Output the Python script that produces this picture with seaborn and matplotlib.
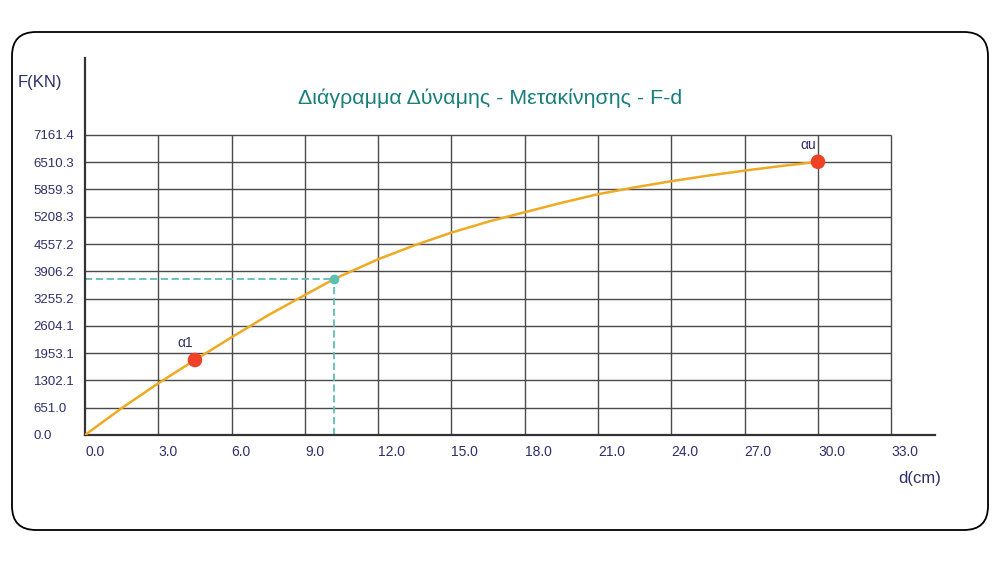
import pandas as pd
import seaborn as sns
import matplotlib.pyplot as plt
from matplotlib.patches import FancyBboxPatch

# values
d_cm = [0.0, 1.5, 3.0, 4.5, 6.0, 7.5, 9.0, 10.2, 12.0, 13.5, 15.0, 16.5, 18.0,
        19.5, 21.0, 22.5, 24.0, 25.5, 27.0, 28.5, 30.0]
force_kn = [0, 640, 1234, 1790, 2332, 2860, 3340, 3724, 4194, 4530, 4830, 5090, 5317,
            5540, 5747, 5910, 6057, 6190, 6310, 6420, 6520]
x_ticks = [0.0, 3.0, 6.0, 9.0, 12.0, 15.0, 18.0, 21.0, 24.0, 27.0, 30.0, 33.0]
y_ticks = [0.0, 651.0, 1302.1, 1953.1, 2604.1, 3255.2, 3906.2, 4557.2,
           5208.3, 5859.3, 6510.3, 7161.4]
key_names = ['α1', 'αu']
key_d = [4.5, 30.0]
key_f = [1790, 6520]
sel_d = 10.2
sel_f = 3724

navy = '#2d2f6b'
teal = '#5cbfb1'

curve = pd.DataFrame({'d': d_cm, 'F': force_kn})
keys = pd.DataFrame({'d': key_d, 'F': key_f, 'name': key_names})

sns.set_style('white')
plt.rcParams['font.family'] = ['Liberation Sans', 'DejaVu Sans']

fig = plt.figure(figsize=(10, 5.62), dpi=100)
fig.patches.append(FancyBboxPatch((12, 32), 976, 498, boxstyle='round,pad=0,rounding_size=24',
                                  transform=None, fill=False, edgecolor='black', linewidth=1.3))

ax = fig.add_axes([0.085, 0.226, 0.85, 0.671])
ax.set_xlim(0, 34.79)
ax.set_ylim(0, 9000)

# grid limited to the tick range
ax.vlines(x_ticks[1:], 0, y_ticks[-1], color='#4a4a4a', linewidth=1, zorder=1)
ax.hlines(y_ticks[1:], 0, x_ticks[-1], color='#4a4a4a', linewidth=1, zorder=1)

# dashed guides to the selected point
ax.plot([0, sel_d], [sel_f, sel_f], color=teal, linestyle='--', linewidth=1.3, dashes=(4, 2), zorder=2)
ax.plot([sel_d, sel_d], [0, sel_f], color=teal, linestyle='--', linewidth=1.3, dashes=(4, 2), zorder=2)

sns.lineplot(data=curve, x='d', y='F', ax=ax, color='#eeaa22', linewidth=1.8, zorder=3)
ax.plot([sel_d], [sel_f], 'o', color=teal, markersize=6, zorder=4)
sns.scatterplot(data=keys, x='d', y='F', ax=ax, color='#ee4125', s=110, edgecolor='none', zorder=5)
for _, r in keys.iterrows():
    ax.annotate(r['name'], (r['d'], r['F']), xytext=(-7, 7), textcoords='offset points',
                ha='center', va='bottom', fontsize=10, color=navy)

sns.despine(ax=ax)
for s in ['left', 'bottom']:
    ax.spines[s].set_color('#333333')
    ax.spines[s].set_linewidth(1.6)

ax.set_xticks(x_ticks)
ax.set_xticklabels([f'{v:.1f}' for v in x_ticks], fontsize=10, color=navy)
ax.set_yticks(y_ticks)
ax.set_yticklabels([f'{v:.1f}' for v in y_ticks], fontsize=9.5, color=navy)
for lbl in ax.get_xticklabels():
    lbl.set_ha('left')
for lbl in ax.get_yticklabels():
    lbl.set_ha('left')
ax.tick_params(axis='x', length=0, pad=7)
ax.tick_params(axis='y', length=0, pad=37)
ax.set_xlabel('')
ax.set_ylabel('')

fig.text(0.018, 1 - 83 / 562, 'F(KN)', fontsize=12, color=navy, ha='left', va='center')
fig.text(0.941, 1 - 478 / 562, 'd(cm)', fontsize=12, color=navy, ha='right', va='center')
fig.text(0.49, 1 - 98 / 562, 'Διάγραμμα Δύναμης - Μετακίνησης - F-d', fontsize=15.4,
         color='#177e7a', ha='center', va='center')

fig.savefig('out.png', dpi=100)
